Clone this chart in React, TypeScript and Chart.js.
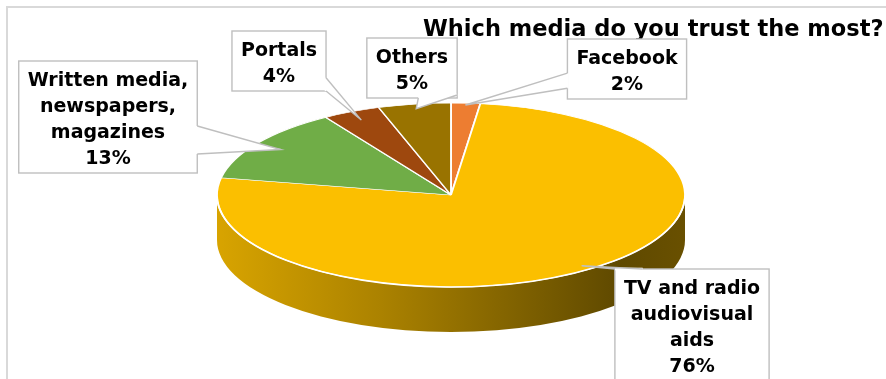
import React, { useEffect, useRef } from 'react';
import { Chart, registerables } from 'chart.js';

Chart.register(...registerables);

// ---- data ----
const categories = [
  'Facebook',
  'TV and radio audiovisual aids',
  'Written media, newspapers, magazines',
  'Portals',
  'Others',
];
const shares = [2, 76, 13, 4, 5];
const labelNameLines = [
  ['Facebook'],
  ['TV and radio', 'audiovisual', 'aids'],
  ['Written media,', 'newspapers,', 'magazines'],
  ['Portals'],
  ['Others'],
];
const titleText = 'Which media do you trust the most?';
const sliceColors = ['#ED7D31', '#FBBF00', '#70AD47', '#9E480E', '#997300'];

// ---- layout (positions / styles only) ----
const W = 886;
const H = 379;
const RX = 234;
const RY = 92;
const DEPTH = 45;
const FONT = '"DejaVu Sans", Verdana, sans-serif';
const LABEL_FONT = `bold 19px ${FONT}`;
const LINE_H = 26;
const PAD_X = 9;

type Base = { side: 'left' | 'right' | 'top' | 'bottom'; t: number };
const labelLayout: { cx: number; top: number; tip: number; bases: [Base, Base] }[] = [
  { cx: 627, top: 39, tip: 0.98, bases: [{ side: 'left', t: 0.57 }, { side: 'left', t: 0.82 }] },
  { cx: 692, top: 269, tip: 0.95, bases: [{ side: 'top', t: 0.0 }, { side: 'top', t: 0.18 }] },
  { cx: 108, top: 61, tip: 0.88, bases: [{ side: 'right', t: 0.58 }, { side: 'right', t: 0.83 }] },
  { cx: 279, top: 31, tip: 0.9, bases: [{ side: 'right', t: 0.78 }, { side: 'right', t: 1.0 }] },
  { cx: 412, top: 38, tip: 0.95, bases: [{ side: 'bottom', t: 0.57 }, { side: 'right', t: 0.95 }] },
];

function shade(hex: string, k: number) {
  const n = parseInt(hex.slice(1), 16);
  const r = Math.round(((n >> 16) & 255) * k);
  const g = Math.round(((n >> 8) & 255) * k);
  const b = Math.round((n & 255) * k);
  return `rgb(${r},${g},${b})`;
}

const framePlugin = {
  id: 'frame',
  beforeDraw(chart: any) {
    const ctx = chart.ctx;
    ctx.save();
    ctx.fillStyle = '#ffffff';
    ctx.fillRect(0, 0, W, H);
    ctx.strokeStyle = '#D9D9D9';
    ctx.lineWidth = 2;
    ctx.strokeRect(7, 7, W + 20, H + 20);
    ctx.restore();
  },
};

const pie3dPlugin = {
  id: 'pie3d',
  beforeDatasetsDraw(chart: any) {
    const ctx = chart.ctx;
    const arcs = chart.getDatasetMeta(0).data;
    if (!arcs.length) return;
    const cx = arcs[0].x;
    const cy = arcs[0].y;
    const r = arcs[0].outerRadius;
    arcs.forEach((arc: any, i: number) => {
      const s = arc.startAngle;
      const e = arc.endAngle;
      for (const k of [-2, 0, 2]) {
        const lo = Math.max(s, k * Math.PI);
        const hi = Math.min(e, (k + 1) * Math.PI);
        if (hi <= lo) continue;
        const g = ctx.createLinearGradient(cx - RX, 0, cx + RX, 0);
        const base = sliceColors[i];
        g.addColorStop(0, shade(base, 0.86));
        g.addColorStop(0.35, shade(base, 0.68));
        g.addColorStop(0.86, shade(base, 0.38));
        g.addColorStop(1, shade(base, 0.42));
        ctx.save();
        ctx.beginPath();
        ctx.ellipse(cx, cy, RX, RY, 0, lo, hi, false);
        ctx.ellipse(cx, cy + DEPTH, RX, RY, 0, hi, lo, true);
        ctx.closePath();
        ctx.fillStyle = g;
        ctx.fill();
        ctx.restore();
      }
    });
    ctx.save();
    ctx.translate(cx, cy);
    ctx.scale(RX / r, RY / r);
    ctx.translate(-cx, -cy);
  },
  afterDatasetsDraw(chart: any) {
    const ctx = chart.ctx;
    ctx.restore();
    const arcs = chart.getDatasetMeta(0).data;
    if (!arcs.length) return;
    const cx = arcs[0].x;
    const cy = arcs[0].y;
    ctx.save();
    ctx.strokeStyle = '#ffffff';
    ctx.lineWidth = 1.6;
    ctx.beginPath();
    ctx.ellipse(cx, cy, RX, RY, 0, 0.02, Math.PI - 0.02, false);
    ctx.stroke();
    ctx.restore();
  },
};

const calloutPlugin = {
  id: 'callouts',
  afterDraw(chart: any) {
    const ctx = chart.ctx;
    const arcs = chart.getDatasetMeta(0).data;
    if (!arcs.length) return;
    const cx = arcs[0].x;
    const cy = arcs[0].y;
    ctx.save();
    // title
    ctx.font = `bold 22.5px ${FONT}`;
    ctx.fillStyle = '#000000';
    ctx.textAlign = 'left';
    ctx.textBaseline = 'alphabetic';
    ctx.fillText(titleText, 423, 36);

    ctx.font = LABEL_FONT;
    arcs.forEach((arc: any, i: number) => {
      const L = labelLayout[i];
      const lines = [...labelNameLines[i], `${shares[i]}%`];
      const mid = (arc.startAngle + arc.endAngle) / 2;
      const tx = cx + RX * L.tip * Math.cos(mid);
      const ty = cy + RY * L.tip * Math.sin(mid);
      const w = Math.max(...lines.map((l) => ctx.measureText(l).width)) + 2 * PAD_X;
      const h = lines.length * LINE_H + 8;
      const x0 = L.cx - w / 2;
      const y0 = L.top;
      const pt = (b: Base) => {
        if (b.side === 'left') return [x0, y0 + h * b.t];
        if (b.side === 'right') return [x0 + w, y0 + h * b.t];
        if (b.side === 'top') return [x0 + w * b.t, y0];
        return [x0 + w * b.t, y0 + h];
      };
      const b1 = pt(L.bases[0]);
      const b2 = pt(L.bases[1]);

      ctx.fillStyle = '#ffffff';
      ctx.fillRect(x0, y0, w, h);
      ctx.strokeStyle = '#BFBFBF';
      ctx.lineWidth = 1.4;
      ctx.strokeRect(x0, y0, w, h);

      ctx.beginPath();
      ctx.moveTo(b1[0], b1[1]);
      ctx.lineTo(tx, ty);
      ctx.lineTo(b2[0], b2[1]);
      ctx.closePath();
      ctx.fillStyle = '#ffffff';
      ctx.fill();
      ctx.strokeStyle = '#ffffff';
      ctx.lineWidth = 2.6;
      ctx.beginPath();
      ctx.moveTo(b1[0], b1[1]);
      ctx.lineTo(b2[0], b2[1]);
      ctx.stroke();
      ctx.strokeStyle = '#BFBFBF';
      ctx.lineWidth = 1.4;
      ctx.beginPath();
      ctx.moveTo(b1[0], b1[1]);
      ctx.lineTo(tx, ty);
      ctx.lineTo(b2[0], b2[1]);
      ctx.stroke();

      ctx.fillStyle = '#000000';
      ctx.textAlign = 'center';
      lines.forEach((l, j) => {
        ctx.fillText(l, L.cx, y0 + 25 + j * LINE_H);
      });
    });
    ctx.restore();
  },
};

export default function App() {
  const ref = useRef<HTMLCanvasElement>(null);
  useEffect(() => {
    document.body.style.margin = '0';
    const chart = new Chart(ref.current as HTMLCanvasElement, {
      type: 'pie',
      data: {
        labels: categories,
        datasets: [
          {
            data: shares,
            backgroundColor: sliceColors,
            borderColor: '#ffffff',
            borderWidth: 1.2,
          },
        ],
      },
      options: {
        responsive: false,
        animation: false,
        events: [],
        layout: { padding: { left: 301, right: 285, top: 45, bottom: 34 } },
        plugins: {
          legend: { display: false },
          tooltip: { enabled: false },
          title: { display: false },
        },
      },
      plugins: [framePlugin, pie3dPlugin, calloutPlugin],
    } as any);
    return () => chart.destroy();
  }, []);
  return (
    <div style={{ position: 'fixed', left: 0, top: 0, width: W, height: H, background: '#fff' }}>
      <canvas ref={ref} width={W} height={H} style={{ display: 'block', width: W, height: H }} />
    </div>
  );
}
